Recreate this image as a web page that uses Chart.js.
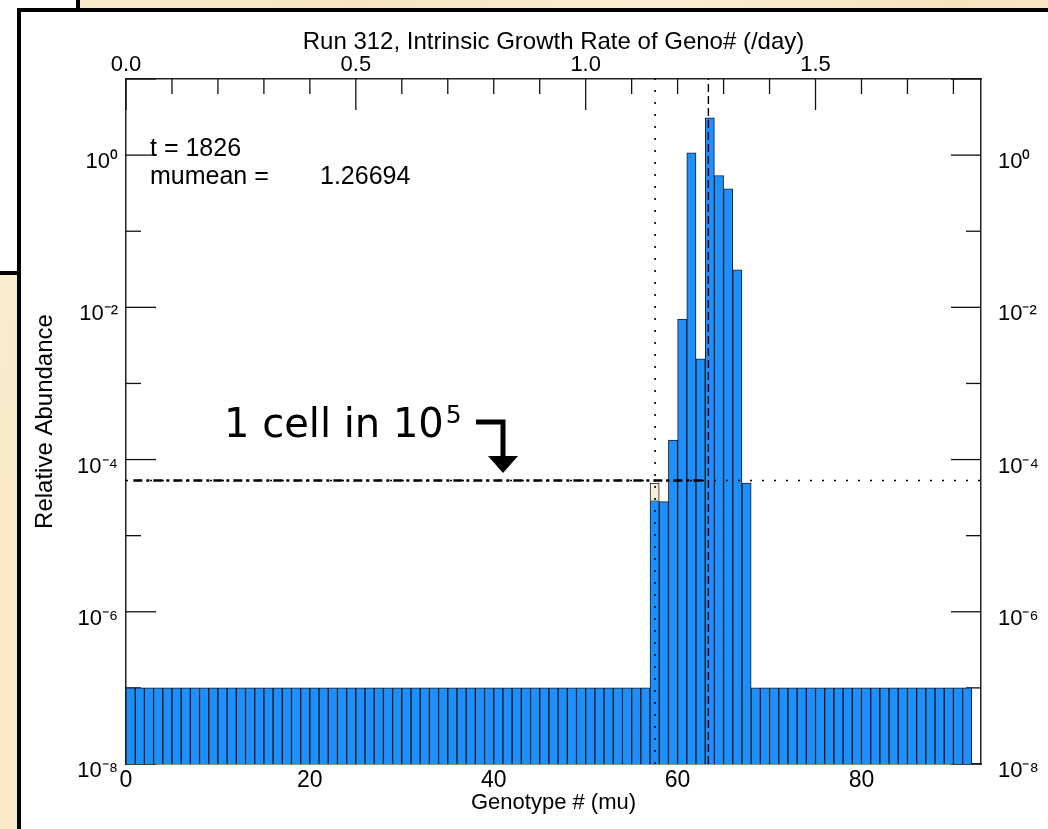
<!DOCTYPE html>
<html>
<head>
<meta charset="utf-8">
<title>Run 312 - Relative Abundance</title>
<script src="https://cdn.jsdelivr.net/npm/chart.js@4/dist/chart.umd.min.js"></script>
<style>
  html, body { margin: 0; padding: 0; }
  body {
    width: 1048px; height: 829px; overflow: hidden; position: relative;
    background: linear-gradient(100deg, #fbecd0 0%, #f8e4c0 30%, #fbeed4 55%, #f7e2bd 80%, #fbebcf 100%);
  }
  #backCard { position: absolute; left: 0; top: 0; width: 76px; height: 271px; background: #fff;
    border-right: 4px solid #000; border-bottom: 4px solid #000; }
  #panel { position: absolute; left: 17px; top: 8px; width: 1100px; height: 900px; background: #fff;
    border-left: 4px solid #000; border-top: 4px solid #000; }
  #chart { position: absolute; left: 0; top: 0; }
</style>
</head>
<body>
<div id="backCard"></div>
<div id="panel"></div>
<canvas id="chart" width="1048" height="829"></canvas>
<script>
// relative abundance per genotype bin (0..91)
var abundance = [
  1e-7, 1e-7, 1e-7, 1e-7, 1e-7, 1e-7, 1e-7, 1e-7, 1e-7, 1e-7,
  1e-7, 1e-7, 1e-7, 1e-7, 1e-7, 1e-7, 1e-7, 1e-7, 1e-7, 1e-7,
  1e-7, 1e-7, 1e-7, 1e-7, 1e-7, 1e-7, 1e-7, 1e-7, 1e-7, 1e-7,
  1e-7, 1e-7, 1e-7, 1e-7, 1e-7, 1e-7, 1e-7, 1e-7, 1e-7, 1e-7,
  1e-7, 1e-7, 1e-7, 1e-7, 1e-7, 1e-7, 1e-7, 1e-7, 1e-7, 1e-7,
  1e-7, 1e-7, 1e-7, 1e-7, 1e-7, 1e-7, 1e-7,
  2.9e-5, 2.8e-5, 1.8e-4, 7.0e-3, 1.07, 2.1e-3, 3.1, 0.54, 0.36, 0.031, 4.9e-5,
  1e-7, 1e-7, 1e-7, 1e-7, 1e-7, 1e-7, 1e-7, 1e-7, 1e-7, 1e-7,
  1e-7, 1e-7, 1e-7, 1e-7, 1e-7, 1e-7, 1e-7, 1e-7, 1e-7, 1e-7,
  1e-7, 1e-7, 1e-7, 1e-7
];

// highlighted "1 cell" box sitting on bin 57
var cellBin = 57;
var cellBox = [2.9e-5, 4.9e-5];
var cellLevel = 5.3e-5;

var tDays = 1826;
var muMean = 1.26694;
var muPerGeno = 0.02;
var cutoffGeno = 57.55;
var genoMax = 93;

var genoTicks = [0, 20, 40, 60, 80];
var muMajor = [0.0, 0.5, 1.0, 1.5];
var muMinor = [0.1, 0.2, 0.3, 0.4, 0.6, 0.7, 0.8, 0.9, 1.1, 1.2, 1.3, 1.4, 1.6, 1.7, 1.8];
var yMajor = [1e-8, 1e-6, 1e-4, 1e-2, 1];
var yMinor = [1e-7, 1e-5, 1e-3, 1e-1];
var yLabels = ['10\u207B\u2078', '10\u207B\u2076', '10\u207B\u2074', '10\u207B\u00B2', '10\u2070'];

var FONT = '"Liberation Sans", Arial, Helvetica, sans-serif';
Chart.defaults.font.family = FONT;
Chart.defaults.color = '#000';

// inward tick marks on the frame (under the bars)
var tickMarks = {
  id: 'tickMarks',
  beforeDatasetsDraw: function(chart) {
    var ctx = chart.ctx, a = chart.chartArea, s = chart.scales;
    ctx.save();
    ctx.strokeStyle = '#111';
    ctx.lineWidth = 1.3;
    function seg(x1, y1, x2, y2) {
      ctx.beginPath(); ctx.moveTo(x1, y1); ctx.lineTo(x2, y2); ctx.stroke();
    }
    yMajor.concat([10]).forEach(function(v) {
      var y = s.y.getPixelForValue(v);
      seg(a.left, y, a.left + 30, y); seg(a.right - 30, y, a.right, y);
    });
    yMinor.forEach(function(v) {
      var y = s.y.getPixelForValue(v);
      seg(a.left, y, a.left + 15, y); seg(a.right - 15, y, a.right, y);
    });
    muMajor.forEach(function(v) {
      var x = s.x2.getPixelForValue(v);
      seg(x, a.top, x, a.top + 31);
    });
    muMinor.forEach(function(v) {
      var x = s.x2.getPixelForValue(v);
      seg(x, a.top, x, a.top + 15);
    });
    ctx.restore();
  }
};

// text notes and the "1 cell" arrow
var notes = {
  id: 'notes',
  afterDatasetsDraw: function(chart) {
    var ctx = chart.ctx, a = chart.chartArea;
    ctx.save();
    ctx.fillStyle = '#000';
    ctx.textBaseline = 'alphabetic';
    ctx.font = '25px ' + FONT;
    ctx.fillText('t = ' + tDays, a.left + 24, a.top + 77);
    ctx.fillText('mumean =', a.left + 24, a.top + 105);
    ctx.fillText(muMean.toFixed(5), a.left + 194, a.top + 105);

    var hand = '"Comic Sans MS", "DejaVu Sans", sans-serif';
    var tx = a.left + 98, ty = a.top + 358;
    ctx.font = '40px ' + hand;
    ctx.fillText('1 cell in 10', tx, ty);
    var w = ctx.measureText('1 cell in 10').width;
    ctx.font = '25px ' + hand;
    ctx.fillText('5', tx + w + 2, ty - 14);

    ctx.lineWidth = 5;
    ctx.strokeStyle = '#000';
    ctx.beginPath();
    ctx.moveTo(a.left + 350, a.top + 343);
    ctx.lineTo(a.left + 377, a.top + 343);
    ctx.lineTo(a.left + 377, a.top + 380);
    ctx.stroke();
    ctx.beginPath();
    ctx.moveTo(a.left + 362, a.top + 377);
    ctx.lineTo(a.left + 392, a.top + 377);
    ctx.lineTo(a.left + 377, a.top + 394);
    ctx.closePath();
    ctx.fill();
    ctx.restore();
  }
};

var barPoints = abundance.map(function(v, i) { return {x: i + 0.5, y: v}; });

new Chart(document.getElementById('chart').getContext('2d'), {
  type: 'bar',
  data: {
    datasets: [{
      type: 'line',
      data: [{x: cutoffGeno, y: 1e-8}, {x: cutoffGeno, y: 10}],
      borderColor: '#000', borderWidth: 1.6, borderDash: [2, 10],
      pointRadius: 0, order: 0
    }, {
      type: 'line',
      data: [{x: muMean / muPerGeno, y: 1e-8}, {x: muMean / muPerGeno, y: 10}],
      borderColor: '#000', borderWidth: 1.4, borderDash: [8, 4],
      pointRadius: 0, order: 0
    }, {
      type: 'line',
      data: [{x: 0, y: cellLevel}, {x: genoMax, y: cellLevel}],
      borderColor: '#000', borderWidth: 1.4, borderDash: [2, 10],
      pointRadius: 0, order: 0
    }, {
      type: 'line',
      data: [{x: 0.8, y: cellLevel}, {x: 63, y: cellLevel}],
      borderColor: '#000', borderWidth: 2.4, borderDash: [9, 4, 3, 4],
      pointRadius: 0, order: 0
    }, {
      type: 'bar',
      data: [{x: cellBin + 0.5, y: cellBox}],
      backgroundColor: '#f3efda', borderColor: '#1a1a1a', borderWidth: 1,
      barPercentage: 1, categoryPercentage: 1, grouped: false, order: 1
    }, {
      type: 'bar',
      data: barPoints,
      backgroundColor: '#1e8fff', borderColor: '#1a1a1a', borderWidth: 1,
      barPercentage: 1, categoryPercentage: 1, grouped: false, order: 2
    }]
  },
  options: {
    responsive: false,
    animation: false,
    layout: { padding: 0 },
    plugins: { legend: { display: false }, tooltip: { enabled: false } },
    scales: {
      x: {
        type: 'linear', position: 'bottom', min: 0, max: genoMax, offset: false,
        afterBuildTicks: function(s) { s.ticks = genoTicks.map(function(v) { return {value: v}; }); },
        afterFit: function(s) { s.height = 65; },
        grid: { display: false, drawTicks: false },
        border: { display: true, color: '#222', width: 1.5 },
        ticks: { padding: 3, font: { size: 23 }, maxRotation: 0, autoSkip: false },
        title: { display: true, text: 'Genotype # (mu)', font: { size: 22 }, padding: { top: 0, bottom: 13 } }
      },
      x2: {
        type: 'linear', position: 'top', min: 0, max: genoMax * muPerGeno, offset: false,
        afterBuildTicks: function(s) { s.ticks = muMajor.map(function(v) { return {value: v}; }); },
        afterFit: function(s) { s.height = 79; },
        grid: { display: false, drawTicks: false },
        border: { display: true, color: '#222', width: 1.5 },
        ticks: { padding: 1, font: { size: 22 }, maxRotation: 0, autoSkip: false,
          callback: function(v) { return Number(v).toFixed(1); } },
        title: { display: true, text: 'Run 312, Intrinsic Growth Rate of Geno# (/day)', font: { size: 24 },
          padding: { top: 28, bottom: 0 } }
      },
      y: {
        type: 'logarithmic', position: 'left', min: 1e-8, max: 10,
        afterBuildTicks: function(s) { s.ticks = yMajor.map(function(v) { return {value: v}; }); },
        afterFit: function(s) { s.width = 126; },
        grid: { display: false, drawTicks: false },
        border: { display: true, color: '#222', width: 1.5 },
        ticks: { padding: 8, labelOffset: 7, font: { size: 22 }, autoSkip: false,
          callback: function(v, i) { return yLabels[i]; } },
        title: { display: true, text: 'Relative Abundance', font: { size: 24 }, padding: { top: 31, bottom: 0 } }
      },
      y2: {
        type: 'logarithmic', position: 'right', min: 1e-8, max: 10,
        afterBuildTicks: function(s) { s.ticks = yMajor.map(function(v) { return {value: v}; }); },
        afterFit: function(s) { s.width = 67; },
        grid: { display: false, drawTicks: false },
        border: { display: true, color: '#222', width: 1.5 },
        ticks: { padding: 17, labelOffset: 7, font: { size: 22 }, autoSkip: false,
          callback: function(v, i) { return yLabels[i]; } }
      }
    }
  },
  plugins: [tickMarks, notes]
});
</script>
</body>
</html>
